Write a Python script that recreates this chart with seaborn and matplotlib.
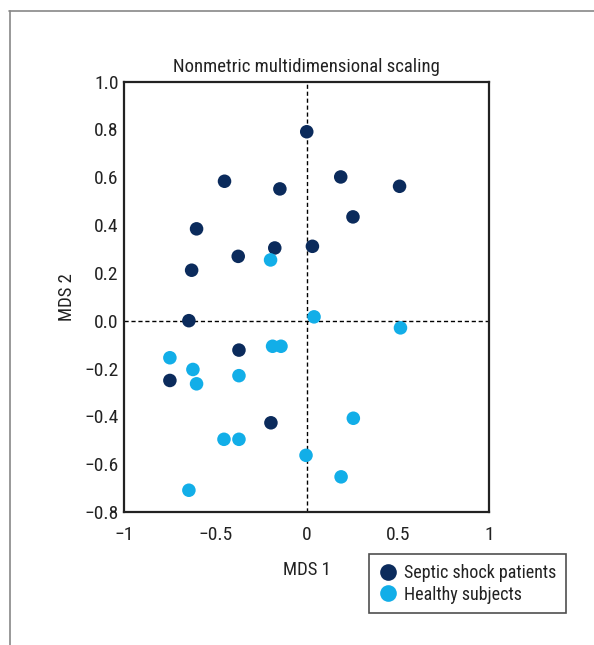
import matplotlib
matplotlib.use("Agg")
import matplotlib.pyplot as plt
import seaborn as sns
import pandas as pd
from matplotlib.lines import Line2D

septic_x = [0.00, -0.45, -0.147, 0.186, 0.508, 0.253, -0.603, 0.031, -0.175, -0.375, -0.63,
            -0.645, -0.371, -0.749, -0.196]
septic_y = [0.79, 0.583, 0.551, 0.601, 0.562, 0.434, 0.384, 0.311, 0.304, 0.269, 0.211,
            0.0, -0.123, -0.25, -0.427]
healthy_x = [-0.198, 0.04, 0.513, -0.187, -0.141, -0.749, -0.623, -0.603, -0.371, 0.255,
             -0.453, -0.371, -0.004, 0.188, -0.645]
healthy_y = [0.254, 0.016, -0.03, -0.107, -0.107, -0.155, -0.204, -0.264, -0.23, -0.408,
             -0.496, -0.496, -0.563, -0.653, -0.709]
groups = ["Septic shock patients", "Healthy subjects"]
colors = ["#0b2b5c", "#12aee8"]
x_ticks = [-1, -0.5, 0, 0.5, 1]
x_tick_labels = ["\u22121", "\u22120.5", "0", "0.5", "1"]
y_ticks = [1.0, 0.8, 0.6, 0.4, 0.2, 0.0, -0.2, -0.4, -0.6, -0.8]

df = pd.DataFrame({
    "MDS 1": septic_x + healthy_x,
    "MDS 2": septic_y + healthy_y,
    "group": [groups[0]] * len(septic_x) + [groups[1]] * len(healthy_x),
})

sns.set_style("white")
plt.rcParams["font.family"] = ["Roboto Condensed", "Roboto", "DejaVu Sans"]
plt.rcParams["axes.unicode_minus"] = True

TXT = "#222222"
fig = plt.figure(figsize=(5.94, 6.45), dpi=100)
ax = fig.add_axes([0.2088, 0.2062, 0.824 - 0.2088, 0.8736 - 0.2062])

ax.axhline(0, color="black", lw=1, ls=(0, (3, 2)), zorder=1)
ax.axvline(0, color="black", lw=1, ls=(0, (3, 2)), zorder=1)

sns.scatterplot(data=df, x="MDS 1", y="MDS 2", hue="group", hue_order=groups,
                palette=colors, s=95, edgecolor="none", linewidth=0, ax=ax,
                legend=False, zorder=3)

ax.set_xlim(-1, 1)
ax.set_ylim(-0.8, 1.0)
ax.set_xticks(x_ticks)
ax.set_xticklabels(x_tick_labels)
ax.set_yticks(y_ticks)
ax.set_yticklabels([f"{v:.1f}".replace("-", "\u2212") for v in y_ticks])
ax.tick_params(axis="both", length=0, labelsize=14, colors=TXT)
ax.tick_params(axis="x", pad=10)
ax.tick_params(axis="y", pad=4)
for sp in ax.spines.values():
    sp.set_color(TXT)
    sp.set_linewidth(1.6)
ax.set_xlabel("MDS 1", fontsize=13.5, color=TXT, labelpad=12)
ax.set_ylabel("MDS 2", fontsize=13.5, color=TXT, labelpad=6)
ax.set_title("Nonmetric multidimensional scaling", fontsize=13.5, color=TXT, pad=7)

handles = [Line2D([], [], marker="o", ls="none", markersize=12, color=c, markeredgewidth=0)
           for c in colors]
leg = fig.legend(handles, groups, loc="upper left", bbox_to_anchor=(369 / 594, 1 - 554 / 645),
                 frameon=True, fancybox=False, fontsize=13, handletextpad=0.4,
                 borderpad=0.55, labelspacing=0.2, handlelength=1.0, borderaxespad=0)
leg.get_frame().set_edgecolor(TXT)
leg.get_frame().set_linewidth(1.2)
for t in leg.get_texts():
    t.set_color(TXT)

# outer frame lines
fig.add_artist(Line2D([9 / 594, 1.0], [1 - 11 / 645, 1 - 11 / 645], color="#888888", lw=1.2))
fig.add_artist(Line2D([10 / 594, 10 / 594], [0.0, 1 - 11 / 645], color="#888888", lw=1.2))

fig.savefig("out.png", dpi=100)
